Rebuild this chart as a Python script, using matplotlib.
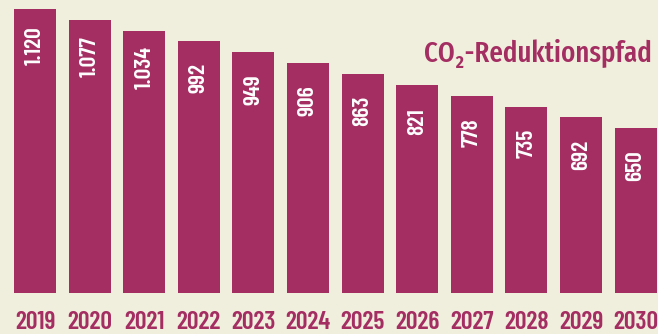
import matplotlib
matplotlib.use("Agg")
from matplotlib import pyplot as plt
from matplotlib import transforms

years = ["2019", "2020", "2021", "2022", "2023", "2024",
         "2025", "2026", "2027", "2028", "2029", "2030"]
values = [1120, 1077, 1034, 992, 949, 906, 863, 821, 778, 735, 692, 650]
labels = ["1.120", "1.077", "1.034", "992", "949", "906",
          "863", "821", "778", "735", "692", "650"]

BG = "#f0eedc"
BAR = "#a42d62"
NUM_FONT = ["Barlow Condensed", "DejaVu Sans"]
TITLE_FONT = ["Fira Sans Extra Condensed", "DejaVu Sans"]


def main():
    fig = plt.figure(figsize=(6.58, 3.34), dpi=100, facecolor=BG)
    ax = fig.add_axes([0, 41 / 334, 1, 293 / 334])
    ax.set_facecolor(BG)

    x = list(range(len(years)))
    ax.bar(x, values, width=0.77, color=BAR)
    ax.set_xlim(-35 / 54.6, (658 - 35) / 54.6)
    ax.set_ylim(0, 1155)

    # value labels inside the bars, rotated
    for xi, v, lab in zip(x, values, labels):
        ax.text(xi, v - 146, lab, rotation=90, ha="center", va="center",
                color="white", fontsize=17, fontweight="semibold", family=NUM_FONT)

    # year labels along the bottom edge
    trans = transforms.blended_transform_factory(ax.transData, fig.transFigure)
    for xi, yr in zip(x, years):
        ax.text(xi, 0.015, yr, transform=trans, ha="center", va="baseline",
                color=BAR, fontsize=18.5, fontweight="semibold", family=NUM_FONT,
                clip_on=False)

    ax.set_xticks([])
    ax.set_yticks([])
    for s in ax.spines.values():
        s.set_visible(False)

    fig.text(0.991, 0.814, "CO\u2082-Reduktionspfad", ha="right", va="baseline",
             color=BAR, fontsize=21, fontweight="medium", family=TITLE_FONT)

    fig.savefig("out.png", dpi=100, facecolor=BG)


if __name__ == "__main__":
    main()
